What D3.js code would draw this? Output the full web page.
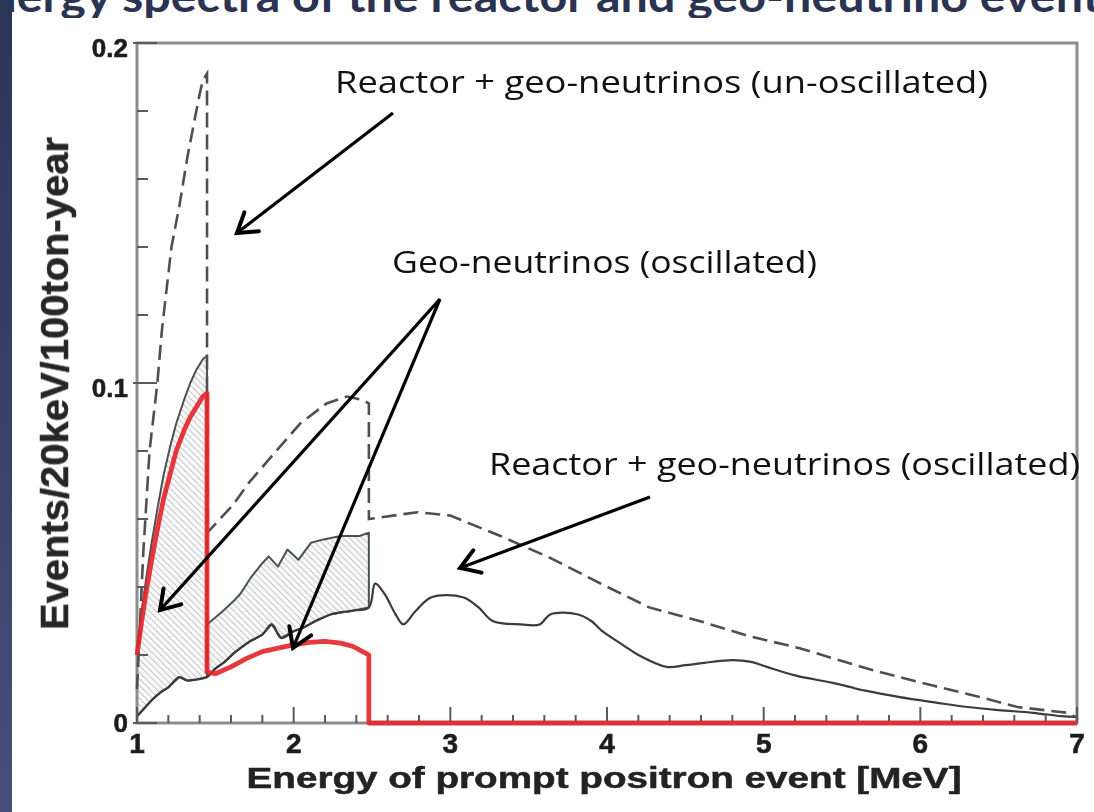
<!DOCTYPE html>
<html>
<head>
<meta charset="utf-8">
<script src="https://cdn.jsdelivr.net/npm/d3@7"></script>
<style>
  html, body { margin: 0; padding: 0; background: #ffffff; }
  svg { display: block; }
</style>
</head>
<body>
<svg id="chart" width="1094" height="812"></svg>
<script>
// ---- Spectra (energy in MeV, events / 20 keV / 100 ton-year) ----

// Reactor + geo-neutrinos, un-oscillated (dashed)
const unoscE = [1.00, 1.02, 1.04, 1.08, 1.13, 1.16, 1.22, 1.27, 1.32, 1.37, 1.40, 1.42, 1.447,
                1.447, 1.47, 1.61, 1.72, 1.87, 2.04, 2.21, 2.34, 2.44, 2.48,
                2.48, 2.79, 3.00, 3.32, 3.64, 3.96, 4.27, 4.59, 4.91, 5.23, 5.66, 6.08, 6.40, 6.62, 6.94, 7.00];
const unoscV = [0.010, 0.030, 0.050, 0.080, 0.100, 0.116, 0.140, 0.152, 0.166, 0.178, 0.185, 0.189, 0.191,
                0.056, 0.057, 0.064, 0.071, 0.079, 0.088, 0.094, 0.096, 0.095, 0.094,
                0.060, 0.062, 0.061, 0.055, 0.0485, 0.041, 0.034, 0.030, 0.0255, 0.022, 0.016, 0.011, 0.0074, 0.0047, 0.003, 0.0015];

// Reactor only, oscillated (solid, lower edge of the hatched bands)
const reactorE = [1.00, 1.05, 1.10, 1.15, 1.20, 1.27, 1.32, 1.38, 1.447, 1.50, 1.56, 1.62, 1.72, 1.80, 1.86,
                  1.92, 2.00, 2.06, 2.14, 2.24, 2.37, 2.48, 2.52, 2.58, 2.65, 2.70, 2.78, 2.88, 3.08, 3.18,
                  3.27, 3.45, 3.57, 3.64, 3.81, 3.90, 3.97, 4.10, 4.20, 4.38, 4.50, 4.62, 4.80, 4.92, 5.02,
                  5.20, 5.44, 5.65, 5.87, 6.10, 6.30, 6.50, 6.72, 6.90, 7.00];
const reactorV = [0.002, 0.0045, 0.007, 0.009, 0.0105, 0.0135, 0.0125, 0.0128, 0.0135, 0.016, 0.018, 0.0206, 0.024, 0.026, 0.029,
                  0.025, 0.027, 0.028, 0.030, 0.032, 0.033, 0.034, 0.041, 0.038, 0.032, 0.029, 0.033, 0.037, 0.037, 0.034,
                  0.030, 0.029, 0.029, 0.032, 0.032, 0.030, 0.027, 0.023, 0.020, 0.0165, 0.017, 0.0177, 0.0185, 0.018, 0.0165,
                  0.014, 0.0118, 0.0095, 0.0076, 0.006, 0.0047, 0.0038, 0.003, 0.002, 0.0018];

// Reactor + geo-neutrinos, oscillated: upper edge of the two hatched bands
const totalLowE  = [1.00, 1.03, 1.06, 1.09, 1.13, 1.17, 1.21, 1.25, 1.30, 1.34, 1.38, 1.42, 1.447];
const totalLowV  = [0.022, 0.033, 0.043, 0.052, 0.063, 0.073, 0.081, 0.088, 0.095, 0.100, 0.104, 0.107, 0.108];
const totalHighE = [1.447, 1.50, 1.55, 1.62, 1.66, 1.73, 1.80, 1.84, 1.90, 1.96, 2.03, 2.11, 2.19, 2.30, 2.42, 2.48];
const totalHighV = [0.029, 0.031, 0.033, 0.036, 0.038, 0.043, 0.047, 0.049, 0.046, 0.051, 0.048, 0.053, 0.054, 0.055, 0.055, 0.056];

// Geo-neutrinos, oscillated (red)
const geoE = [1.00, 1.03, 1.06, 1.09, 1.13, 1.17, 1.21, 1.25, 1.30, 1.34, 1.38, 1.42, 1.447,
              1.447, 1.50, 1.60, 1.70, 1.80, 1.90, 2.00, 2.10, 2.20, 2.30, 2.38, 2.44, 2.48, 2.48, 7.00];
const geoV = [0.020, 0.030, 0.039, 0.047, 0.057, 0.066, 0.073, 0.080, 0.086, 0.090, 0.093, 0.096, 0.097,
              0.015, 0.0145, 0.0165, 0.019, 0.021, 0.022, 0.023, 0.0237, 0.024, 0.0235, 0.0225, 0.021, 0.020, 0, 0];

// Axis ticks and labels
const xTickValues = [1, 2, 3, 4, 5, 6, 7];
const xTickLabels = ["1", "2", "3", "4", "5", "6", "7"];
const yTickValues = [0, 0.1, 0.2];
const yTickLabels = ["0", "0.1", "0.2"];
const xTitle = "Energy of prompt positron event [MeV]";
const yTitle = "Events/20keV/100ton-year";
const heading = "Energy spectra of the reactor and geo-neutrino events";

// Annotations, anchored in data units: [energy, events]
const annoTexts = ["Reactor + geo-neutrinos (un-oscillated)", "Geo-neutrinos (oscillated)", "Reactor + geo-neutrinos (oscillated)"];
const annoAnchors = [[2.264, 0.1853], [2.628, 0.1324], [3.247, 0.0729]];
const annoWidths = [653, 425, 591];
const arrowFrom = [[2.634, 0.1794], [2.934, 0.1247], [2.934, 0.1247], [4.274, 0.0665]];
const arrowTo   = [[1.638, 0.1441], [1.147, 0.0332], [1.996, 0.0221], [3.062, 0.0456]];

// ---- Drawing ----
const svg = d3.select("#chart");
const x = d3.scaleLinear().domain([1, 7]).range([137, 1077]);
const y = d3.scaleLinear().domain([0, 0.2]).range([723, 43]);

const zip = (es, vs) => es.map((e, i) => [e, vs[i]]);
const line = d3.line().x(d => x(d[0])).y(d => y(d[1]));
const smooth = d3.line().x(d => x(d[0])).y(d => y(d[1])).curve(d3.curveCatmullRom.alpha(0.5));

const defs = svg.append("defs");
const grad = defs.append("linearGradient").attr("id", "navy").attr("x1", 0).attr("y1", 0).attr("x2", 0).attr("y2", 1);
grad.append("stop").attr("offset", "0%").attr("stop-color", "#2a3557");
grad.append("stop").attr("offset", "100%").attr("stop-color", "#454f78");

const hatch = defs.append("pattern").attr("id", "hatch")
  .attr("patternUnits", "userSpaceOnUse").attr("width", 6.5).attr("height", 6.5);
hatch.append("rect").attr("width", 6.5).attr("height", 6.5).attr("fill", "#f7f8f7");
hatch.append("path").attr("d", "M-1,-1 L7.5,7.5 M-1,5.5 L1,7.5 M5.5,-1 L7.5,1")
  .attr("stroke", "#a3a3a3").attr("stroke-width", 0.8);

defs.append("filter").attr("id", "soft").attr("x", "-5%").attr("y", "-5%").attr("width", "110%").attr("height", "110%")
  .append("feGaussianBlur").attr("stdDeviation", 0.75);

defs.append("clipPath").attr("id", "topClip").append("rect")
  .attr("x", 0).attr("y", 0).attr("width", 1094).attr("height", 18);

// slide heading, mostly above the visible area
svg.append("g").attr("clip-path", "url(#topClip)")
  .append("text")
  .attr("x", -38).attr("y", 12)
  .attr("font-family", "Lato, 'Open Sans', sans-serif")
  .attr("font-weight", 700).attr("font-size", 44)
  .attr("fill", "#2a3352")
  .attr("textLength", 1160).attr("lengthAdjust", "spacingAndGlyphs")
  .text(heading);

// left navy band
svg.append("rect").attr("x", 0).attr("y", 0).attr("width", 12).attr("height", 812).attr("fill", "url(#navy)");

const plot = svg.append("g").attr("filter", "url(#soft)");

// hatched geo-neutrino bands between reactor and total
const reactor = zip(reactorE, reactorV);
const lowEnd = reactorE.indexOf(1.447);
const highEnd = reactorE.indexOf(2.48);
const band1 = zip(totalLowE, totalLowV).concat(reactor.slice(0, lowEnd + 1).reverse());
const band2 = zip(totalHighE, totalHighV).concat(reactor.slice(lowEnd, highEnd + 1).reverse());

[band1, band2].forEach(b => {
  plot.append("path").attr("d", line(b) + "Z")
    .attr("fill", "url(#hatch)")
    .attr("stroke", "#48524f").attr("stroke-width", 2).attr("stroke-linejoin", "round");
});

// frame
plot.append("rect")
  .attr("x", x(1)).attr("y", y(0.2))
  .attr("width", x(7) - x(1)).attr("height", y(0) - y(0.2))
  .attr("fill", "none").attr("stroke", "#8d8d8d").attr("stroke-width", 3);

// reactor (oscillated)
plot.append("path").attr("d", smooth(reactor))
  .attr("fill", "none").attr("stroke", "#3a3a3a").attr("stroke-width", 2.2).attr("stroke-linejoin", "round");

// un-oscillated total, dashed
plot.append("path").attr("d", line(zip(unoscE, unoscV)))
  .attr("fill", "none").attr("stroke", "#505050").attr("stroke-width", 2.6)
  .attr("stroke-dasharray", "15,7");

// geo-neutrinos (oscillated), red
plot.append("path").attr("d", line(zip(geoE, geoV)))
  .attr("fill", "none").attr("stroke", "#e3262c").attr("stroke-width", 4.8)
  .attr("stroke-linejoin", "round").attr("opacity", 0.92);

// ticks
const tickG = plot.append("g").attr("stroke", "#5a5a5a").attr("stroke-width", 2);
const xMinor = d3.range(0, 31).map(i => 1 + i * 0.2);
xMinor.forEach(v => {
  const major = Math.abs(v - Math.round(v)) < 1e-6;
  tickG.append("line").attr("x1", x(v)).attr("x2", x(v))
    .attr("y1", y(0)).attr("y2", y(0) - (major ? 16 : 8));
});
const yMinor = d3.range(0, 11).map(i => i * 0.02);
yMinor.forEach(v => {
  const major = (Math.round(v * 100) % 10) === 0;
  tickG.append("line").attr("x1", x(1) - (major ? 4 : 0)).attr("x2", x(1) + (major ? 20 : 11))
    .attr("y1", y(v)).attr("y2", y(v));
});

// tick labels
const labelFont = "'Liberation Sans', Arial, sans-serif";
plot.append("g").selectAll("text").data(xTickValues).join("text")
  .attr("x", d => x(d)).attr("y", y(0) + 30)
  .attr("text-anchor", "middle")
  .attr("font-family", labelFont).attr("font-weight", 700).attr("font-size", 28)
  .attr("fill", "#1e1e1e").attr("stroke", "#1e1e1e").attr("stroke-width", 0.6)
  .text((d, i) => xTickLabels[i]);

plot.append("g").selectAll("text").data(yTickValues).join("text")
  .attr("x", x(1) - 9).attr("y", d => y(d) + (d === 0 ? 9 : 14))
  .attr("text-anchor", "end")
  .attr("font-family", labelFont).attr("font-weight", 700).attr("font-size", 26)
  .attr("fill", "#1e1e1e").attr("stroke", "#1e1e1e").attr("stroke-width", 0.6)
  .text((d, i) => yTickLabels[i]);

// axis titles
plot.append("text")
  .attr("x", 604).attr("y", 788)
  .attr("text-anchor", "middle")
  .attr("font-family", labelFont).attr("font-weight", 700).attr("font-size", 29)
  .attr("fill", "#242424").attr("stroke", "#242424").attr("stroke-width", 0.5)
  .attr("textLength", 715).attr("lengthAdjust", "spacingAndGlyphs")
  .text(xTitle);

plot.append("text")
  .attr("transform", `translate(68,${(137 + 630) / 2}) rotate(-90)`)
  .attr("text-anchor", "middle")
  .attr("font-family", labelFont).attr("font-weight", 700).attr("font-size", 39)
  .attr("fill", "#282828").attr("stroke", "#282828").attr("stroke-width", 0.5)
  .attr("textLength", 493).attr("lengthAdjust", "spacingAndGlyphs")
  .text(yTitle);

// red zero segment of the geo series, redrawn over the bottom frame
plot.append("path").attr("d", line(zip(geoE.slice(-2), geoV.slice(-2))))
  .attr("stroke", "#d8323a").attr("stroke-width", 4).attr("opacity", 0.85);

// annotations
const anno = svg.append("g");
annoTexts.forEach((t, i) => {
  anno.append("text")
    .attr("x", x(annoAnchors[i][0])).attr("y", y(annoAnchors[i][1]))
    .attr("font-family", "'Open Sans', 'Noto Sans', sans-serif")
    .attr("font-size", 31).attr("fill", "#111")
    .attr("textLength", annoWidths[i]).attr("lengthAdjust", "spacingAndGlyphs")
    .text(t);
});

arrowFrom.forEach((f, i) => {
  const x0 = x(f[0]), y0 = y(f[1]);
  const x1 = x(arrowTo[i][0]), y1 = y(arrowTo[i][1]);
  const ang = Math.atan2(y1 - y0, x1 - x0);
  const len = 22, spread = Math.PI / 5.5;
  const ax = x1 - len * Math.cos(ang - spread), ay = y1 - len * Math.sin(ang - spread);
  const bx = x1 - len * Math.cos(ang + spread), by = y1 - len * Math.sin(ang + spread);
  anno.append("line").attr("x1", x0).attr("y1", y0).attr("x2", x1).attr("y2", y1)
    .attr("stroke", "#000").attr("stroke-width", 3.2);
  anno.append("path").attr("d", `M${ax},${ay} L${x1},${y1} L${bx},${by}`)
    .attr("fill", "none").attr("stroke", "#000").attr("stroke-width", 4)
    .attr("stroke-linejoin", "miter").attr("stroke-linecap", "round");
});
</script>
</body>
</html>
